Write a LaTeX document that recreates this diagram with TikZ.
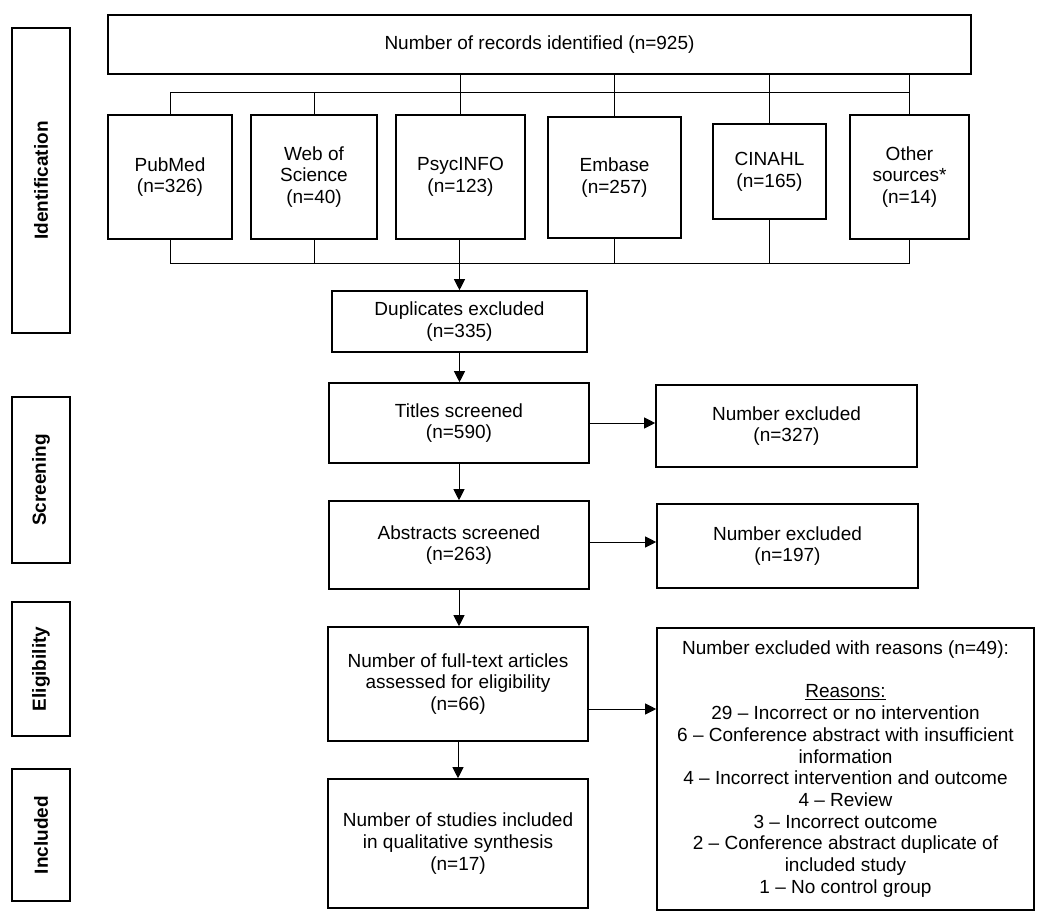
\documentclass[tikz,border=0pt]{standalone}
\usepackage{fontspec}
\setmainfont{Liberation Sans}
\usetikzlibrary{arrows.meta}
\begin{document}
\begin{tikzpicture}[x=1pt,y=-1pt,
  box/.style={draw, line width=1.6pt, inner sep=0pt, align=center, font=\fontsize{19pt}{21.7pt}\selectfont},
  side/.style={draw, line width=1.6pt, inner sep=0pt, rotate=90, minimum height=58pt, font=\fontsize{19pt}{21.7pt}\selectfont\bfseries},
  conn/.style={line width=1pt},
  arr/.style={line width=1pt, -{Triangle[length=11pt,width=11pt]}}]
\useasboundingbox[fill=white] (0,0) rectangle (1050,924);

% side labels
\node[side, minimum width=305pt] (sid) at (41,180.5) {Identification};
\node[side, minimum width=166pt] (sscr) at (41,480) {Screening};
\node[side, minimum width=134pt] (selig) at (41,669) {Eligibility};
\node[side, minimum width=132pt] (sincl) at (41,835) {Included};

% top
\node[box, minimum width=863pt, minimum height=59pt] (top) at (539.5,44.5) {Number of records identified (n=925)};

% sources
\node[box, minimum width=124pt, minimum height=124pt] (pubmed) at (170,177) {PubMed\\(n=326)};
\node[box, minimum width=126pt, minimum height=124pt] (wos) at (314,177) {Web of\\Science\\(n=40)};
\node[box, minimum width=129pt, minimum height=124pt] (psyc) at (460.5,177) {PsycINFO\\(n=123)};
\node[box, minimum width=133pt, minimum height=121pt] (embase) at (614.5,177.5) {Embase\\(n=257)};
\node[box, minimum width=113pt, minimum height=95pt] (cinahl) at (769.5,171.5) {CINAHL\\(n=165)};
\node[box, minimum width=119pt, minimum height=124pt] (other) at (909.5,177) {Other\\sources*\\(n=14)};

% flow
\node[box, minimum width=255pt, minimum height=61pt] (dup) at (459.5,321.5) {Duplicates excluded\\(n=335)};
\node[box, minimum width=260pt, minimum height=80pt] (titles) at (459,423) {Titles screened\\(n=590)};
\node[box, minimum width=261pt, minimum height=82pt] (excl1) at (786.5,426) {Number excluded\\(n=327)};
\node[box, minimum width=260pt, minimum height=88pt] (abs) at (459,545) {Abstracts screened\\(n=263)};
\node[box, minimum width=261pt, minimum height=84pt] (excl2) at (787.5,546) {Number excluded\\(n=197)};
\node[box, minimum width=260pt, minimum height=114pt] (full) at (458,684) {Number of full-text articles\\assessed for eligibility\\(n=66)};
\node[box, minimum width=377pt, minimum height=282pt] (reasons) at (845.5,769) {Number excluded with reasons (n=49):\\[21.7pt]\underline{Reasons:}\\29 -- Incorrect or no intervention\\6 -- Conference abstract with insufficient\\information\\4 -- Incorrect intervention and outcome\\4 -- Review\\3 -- Incorrect outcome\\2 -- Conference abstract duplicate of\\included study\\1 -- No control group};
\node[box, minimum width=260pt, minimum height=129pt] (incl) at (458,843.5) {Number of studies included\\in qualitative synthesis\\(n=17)};

% top distribution lines
\coordinate (tl) at (0,92);
\coordinate (bl) at (0,263);
\draw[conn] (pubmed.north |- tl) -- (other.north |- tl);
\draw[conn] (pubmed.north |- tl) -- (pubmed.north);
\draw[conn] (wos.north |- tl) -- (wos.north);
\draw[conn] (psyc.north |- top.south) -- (psyc.north);
\draw[conn] (embase.north |- top.south) -- (embase.north);
\draw[conn] (cinahl.north |- top.south) -- (cinahl.north);
\draw[conn] (other.north |- top.south) -- (other.north);

% bottom collecting lines
\draw[conn] (pubmed.south |- bl) -- (other.south |- bl);
\draw[conn] (pubmed.south) -- (pubmed.south |- bl);
\draw[conn] (wos.south) -- (wos.south |- bl);
\draw[conn] (embase.south) -- (embase.south |- bl);
\draw[conn] (cinahl.south) -- (cinahl.south |- bl);
\draw[conn] (other.south) -- (other.south |- bl);
\draw[arr] (psyc.south -| dup.north) -- (dup.north);

% vertical arrows
\draw[arr] (dup.south) -- (dup.south |- titles.north);
\draw[arr] (titles.south) -- (titles.south |- abs.north);
\draw[arr] (abs.south) -- (abs.south |- full.north);
\draw[arr] (full.south) -- (full.south |- incl.north);

% horizontal arrows
\draw[arr] (titles.east) -- (titles.east -| excl1.west);
\draw[arr] ([yshift=3pt]abs.east) -- ([yshift=3pt]abs.east -| excl2.west);
\draw[arr] ([yshift=-25pt]full.east) -- ([yshift=-25pt]full.east -| reasons.west);
\end{tikzpicture}
\end{document}
